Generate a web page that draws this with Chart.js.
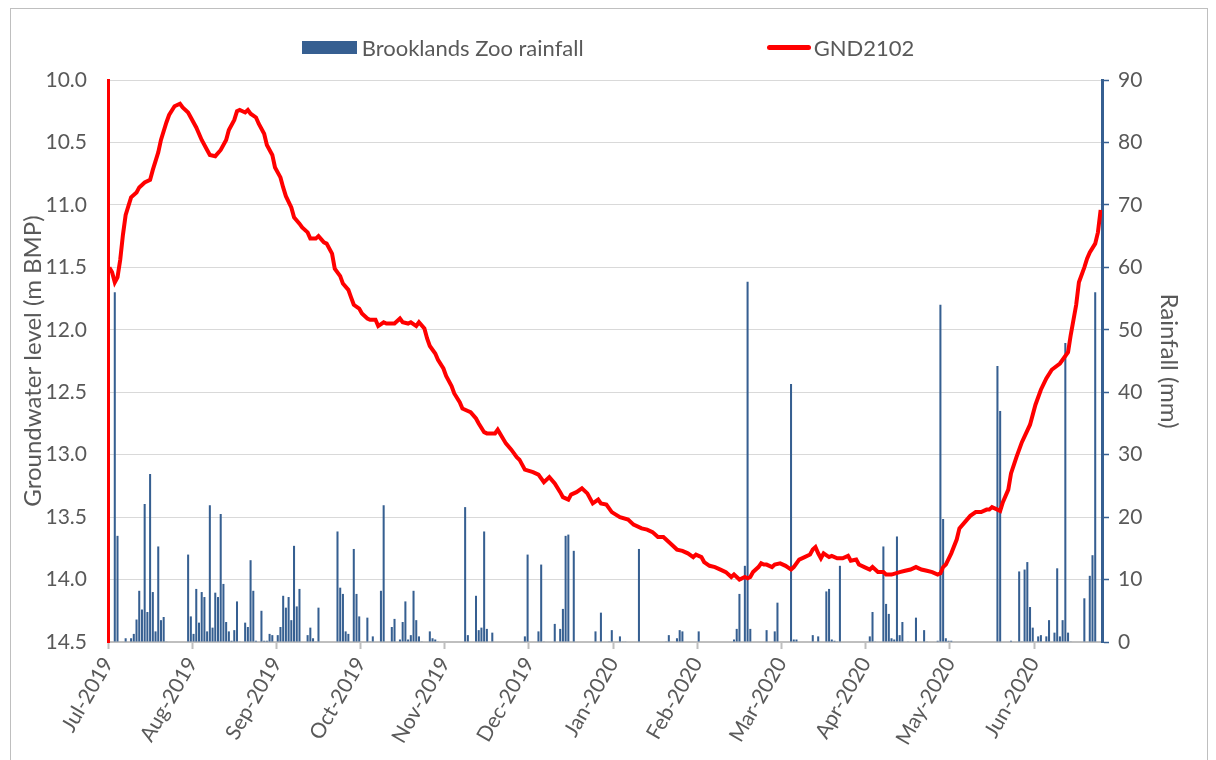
<!DOCTYPE html>
<html>
<head>
<meta charset="utf-8">
<script src="https://cdn.jsdelivr.net/npm/chart.js@4.4.1/dist/chart.umd.min.js"></script>
<style>
  html, body { margin: 0; padding: 0; background: #fff; }
  #wrap { position: relative; width: 1216px; height: 760px; overflow: hidden; }
  #frame { position: absolute; left: 10px; top: 8px; width: 1196px; height: 800px; border: 1px solid #BFBFBF; }
  #legend { position: absolute; left: 0; top: 34px; width: 1216px; display: flex; justify-content: center; gap: 183px;
            font-family: Lato, sans-serif; font-size: 22px; color: #595959; }
  .lg-item { display: flex; align-items: center; }
  .lg-box { display: inline-block; margin-right: 5px; }
</style>
</head>
<body>
<div id="wrap">
  <div id="frame"></div>
  <canvas id="gwChart"></canvas>
  <div id="legend"></div>
</div>
<script>
// ── Data (day 0 = 1 Jul 2019, daily categories to 30 Jun 2020) ──────────
const tickDay = [0, 31, 62, 93, 124, 155, 186, 217, 248, 279, 310, 341];
const tickLabel = ['Jul-2019', 'Aug-2019', 'Sep-2019', 'Oct-2019', 'Nov-2019', 'Dec-2019',
                   'Jan-2020', 'Feb-2020', 'Mar-2020', 'Apr-2020', 'May-2020', 'Jun-2020'];

// Brooklands Zoo daily rainfall (mm), only days with rain
const rainDay = [
  2, 3, 6, 8, 9, 10, 11, 12, 13, 14, 15, 16, 17, 18, 19, 20, 21, 29, 30, 31, 32, 33, 34, 35, 36, 37, 38, 39, 40,
  41, 42, 43, 44, 45, 46, 47, 48, 50, 51, 52, 53, 54, 56, 57, 58, 59, 60,
  62, 63, 64, 65, 66, 67, 68, 69, 70, 73, 74, 75, 76, 77, 84, 85, 86, 87, 88, 90, 91, 92, 95, 96, 97, 100, 101,
  104, 105, 107, 108, 109, 110, 111, 112, 113, 114, 115, 118, 119, 120, 121,
  131, 132, 135, 136, 137, 138, 139, 141, 153, 154, 158, 159, 160, 164, 166, 167, 168, 169, 171, 179, 181, 184, 185,
  188, 189, 190, 195, 205, 206, 209, 210, 211, 217, 230, 231, 232, 234, 235, 236, 242,
  245, 246, 251, 252, 253, 259, 261, 264, 265, 266, 267, 268, 269, 280, 281, 282, 285, 286, 287, 288, 289, 290,
  291, 292, 294, 297, 300, 301, 305, 306, 307, 308, 309, 310,
  327, 328, 332, 335, 336, 337, 338, 339, 340, 342, 343, 345, 346, 348, 349, 350, 351, 352, 353, 354,
  359, 361, 362, 363
];
const rainMm = [
  56, 17.0, 0.6, 0.6, 1.3, 3.6, 8.2, 5.2, 22.1, 4.8, 26.9, 8.0, 1.7, 15.3, 3.5, 4.0, 0.1, 14.0, 4.1, 1.3, 8.5, 3.1, 8.0, 7.2, 1.7, 21.9, 2.3, 7.9, 7.2,
  20.5, 9.3, 3.2, 1.7, 0.2, 1.9, 6.5, 0.1, 3.1, 2.4, 13.1, 8.2, 0.2, 5.0, 0.2, 0.2, 1.3, 1.1,
  1.1, 2.4, 7.4, 5.5, 7.2, 3.5, 15.4, 5.7, 8.5, 1.1, 2.3, 0.6, 0.1, 5.5, 17.7, 8.7, 7.7, 1.7, 1.3, 14.9, 7.7, 4.1, 3.9, 0.1, 0.9, 8.2, 21.9,
  2.4, 3.7, 0.4, 3.2, 6.5, 0.4, 1.1, 8.2, 3.5, 0.9, 0.1, 1.7, 0.6, 0.4, 0.1,
  21.6, 1.1, 7.4, 1.9, 2.3, 17.7, 2.1, 1.5, 0.9, 14.0, 1.7, 12.4, 0.1, 2.9, 2.1, 5.3, 17.0, 17.2, 14.6, 1.7, 4.7, 0.1, 1.9,
  0.9, 0.1, 0.1, 14.9, 0.1, 1.1, 0.6, 1.9, 1.7, 1.7, 0.4, 2.1, 7.7, 12.2, 57.7, 2.1, 1.9,
  1.7, 6.3, 41.3, 0.4, 0.4, 1.1, 0.9, 8.1, 8.5, 0.4, 0.2, 0.1, 12.2, 0.9, 4.8, 0.1, 15.3, 6.1, 4.5, 0.6, 0.4, 16.9,
  1.1, 3.2, 0.1, 3.9, 1.9, 0.1, 0.2, 54, 19.7, 0.6, 0.2, 0.2,
  44.2, 37.0, 0.2, 11.3, 0.1, 11.6, 12.8, 5.6, 2.3, 0.9, 1.1, 0.9, 3.5, 1.5, 11.8, 0.9, 3.5, 47.9, 1.5, 0.1,
  7.0, 10.6, 13.9, 56
];

// GND2102 groundwater level (m below measuring point)
const gwDay = [
  0, 1, 2, 3, 4, 5, 6, 8, 10, 11, 13, 15, 16, 18, 19, 21, 22, 24, 26, 27, 29, 30, 32, 34, 36, 37, 39, 41, 43, 44,
  46, 47, 48, 50, 51, 52, 54, 55, 57, 58, 60, 61, 63, 64, 65, 67, 68, 70, 71, 73, 74, 76, 77, 79, 80, 82, 83, 85,
  86, 88, 89, 90, 92, 93, 95, 96, 98, 99, 101, 102, 104, 105, 107, 108, 110, 111, 113, 114, 116, 117, 118, 120,
  121, 123, 124, 126, 127, 129, 130, 132, 133, 135, 136, 138, 139, 141, 142, 143, 146, 148, 150, 151, 153, 156,
  158, 160, 162, 164, 166, 167, 169, 170, 172, 174, 176, 178, 180, 181, 183, 185, 188, 191, 193, 196, 198, 200,
  202, 204, 205, 207, 209, 211, 213, 215, 216, 218, 219, 221, 223, 225, 227, 229, 230, 231, 232, 234, 235, 236,
  237, 239, 240, 241, 242, 244, 245, 247, 249, 251, 252, 254, 256, 258, 259, 260, 261, 262, 263, 265, 266, 268,
  270, 272, 273, 275, 276, 278, 280, 281, 283, 285, 286, 288, 291, 293, 295, 297, 299, 301, 303, 305, 306, 307,
  308, 310, 312, 313, 315, 317, 319, 321, 323, 324, 325, 327, 328, 329, 331, 332, 334, 336, 339, 341, 343, 345,
  347, 350, 351, 353, 354, 356, 357, 359, 360, 361, 363, 364, 365
];
const gwLevel = [
  11.50, 11.54, 11.62, 11.58, 11.44, 11.24, 11.08, 10.94, 10.90, 10.86, 10.82, 10.80, 10.72, 10.58, 10.48, 10.34,
  10.28, 10.21, 10.19, 10.22, 10.26, 10.30, 10.38, 10.48, 10.56, 10.60, 10.61, 10.56, 10.48, 10.40,
  10.32, 10.25, 10.24, 10.26, 10.24, 10.27, 10.30, 10.35, 10.43, 10.52, 10.60, 10.70, 10.78, 10.86, 10.93, 11.02,
  11.10, 11.15, 11.18, 11.22, 11.27, 11.27, 11.25, 11.30, 11.31, 11.39, 11.51, 11.57,
  11.63, 11.68, 11.74, 11.80, 11.83, 11.87, 11.91, 11.92, 11.92, 11.97, 11.94, 11.95, 11.95, 11.95, 11.91, 11.94,
  11.95, 11.94, 11.97, 11.94, 11.99, 12.07, 12.13, 12.19,
  12.24, 12.31, 12.37, 12.45, 12.51, 12.58, 12.63, 12.65, 12.66, 12.71, 12.75, 12.82, 12.83, 12.83, 12.83, 12.80,
  12.91, 12.96, 13.02, 13.04, 13.12, 13.14,
  13.16, 13.22, 13.18, 13.23, 13.30, 13.34, 13.36, 13.32, 13.30, 13.27, 13.31, 13.39, 13.36, 13.39, 13.40, 13.46,
  13.50, 13.52, 13.56, 13.59, 13.60, 13.62,
  13.66, 13.66, 13.68, 13.72, 13.76, 13.77, 13.79, 13.82, 13.80, 13.82, 13.86, 13.89, 13.90, 13.92, 13.94, 13.98,
  13.96, 13.98, 14.00, 13.98, 13.99, 13.98,
  13.94, 13.90, 13.87, 13.88, 13.88, 13.90, 13.88, 13.87, 13.89, 13.92, 13.90, 13.84, 13.82, 13.80, 13.76, 13.74,
  13.79, 13.83, 13.79, 13.82, 13.81, 13.83,
  13.83, 13.81, 13.85, 13.84, 13.88, 13.90, 13.92, 13.90, 13.94, 13.94, 13.96, 13.96, 13.94, 13.93, 13.92, 13.90,
  13.92, 13.93, 13.94, 13.96, 13.95, 13.90,
  13.88, 13.79, 13.68, 13.59, 13.54, 13.49, 13.46, 13.46, 13.44, 13.44, 13.42, 13.44, 13.45, 13.38, 13.28, 13.15,
  13.02, 12.90, 12.76, 12.60, 12.48, 12.39,
  12.32, 12.27, 12.24, 12.18, 12.04, 11.80, 11.62, 11.50, 11.43, 11.38, 11.31, 11.22, 11.04
];

// ── Styles ───────────────────────────────────────────────────
const RAIN_BLUE = '#365F91';
const GW_RED = '#FF0000';
const TEXT_GREY = '#595959';
const GRID_GREY = '#D9D9D9';
const AXIS_GREY = '#BFBFBF';

Chart.defaults.font.family = 'Lato, sans-serif';
Chart.defaults.color = TEXT_GREY;

// category centre sits half a day right of the day boundary
const rainPoints = rainDay.map((d, i) => ({ x: d + 0.5, y: rainMm[i] }));
const gwPoints = gwDay.map((d, i) => ({ x: d + 0.5, y: gwLevel[i] }));

const chart = new Chart(document.getElementById('gwChart'), {
  type: 'bar',
  data: {
    datasets: [
      {
        type: 'bar',
        label: 'Brooklands Zoo rainfall',
        data: rainPoints,
        yAxisID: 'y1',
        backgroundColor: RAIN_BLUE,
        borderWidth: 0,
        categoryPercentage: 1.0,
        barPercentage: 0.75,
        order: 1
      },
      {
        type: 'line',
        label: 'GND2102',
        data: gwPoints,
        yAxisID: 'y',
        borderColor: GW_RED,
        backgroundColor: GW_RED,
        borderWidth: 4,
        pointRadius: 0,
        tension: 0,
        order: 0
      }
    ]
  },
  options: {
    responsive: true,
    maintainAspectRatio: false,
    animation: false,
    layout: { padding: { top: 80, left: 0, right: 0, bottom: 0 } },
    plugins: { legend: { display: false }, tooltip: { enabled: false } },
    scales: {
      x: {
        type: 'linear',
        min: 0, max: 366,
        offset: false,
        grid: { display: true, offset: false, drawOnChartArea: false, color: AXIS_GREY, tickColor: AXIS_GREY, tickLength: 7, tickWidth: 2 },
        border: { color: AXIS_GREY, width: 2 },
        afterBuildTicks: (s) => { s.ticks = tickDay.map(v => ({ value: v })); },
        afterFit: (s) => { s.height = 118; },
        ticks: {
          autoSkip: false, minRotation: 60, maxRotation: 60, padding: 4,
          font: { size: 21 }, color: TEXT_GREY,
          callback: (v, i) => tickLabel[i]
        }
      },
      y: {
        position: 'left',
        reverse: true,
        min: 10, max: 14.5,
        grid: { color: GRID_GREY, lineWidth: 1, drawTicks: false },
        border: { color: GW_RED, width: 3 },
        afterFit: (s) => { s.width = 108; },
        ticks: { stepSize: 0.5, padding: 21, font: { size: 21 }, color: TEXT_GREY, callback: (v) => v.toFixed(1) },
        title: { display: true, text: 'Groundwater level (m BMP)', font: { size: 24 }, color: TEXT_GREY, padding: { top: 19, bottom: 0 } }
      },
      y1: {
        position: 'right',
        min: 0, max: 90,
        grid: { drawOnChartArea: false, color: RAIN_BLUE, tickColor: RAIN_BLUE, tickLength: 7, tickWidth: 1.5 },
        border: { color: RAIN_BLUE, width: 3 },
        afterFit: (s) => { s.width = 114; },
        ticks: { stepSize: 10, padding: 9, font: { size: 21 }, color: TEXT_GREY },
        title: { display: true, text: 'Rainfall (mm)', font: { size: 24 }, color: TEXT_GREY, padding: { top: 33, bottom: 0 } }
      }
    }
  }
});

// ── HTML legend built from the datasets ──────────────────────
const legendEl = document.getElementById('legend');
chart.data.datasets.forEach(ds => {
  const item = document.createElement('div');
  item.className = 'lg-item';
  const box = document.createElement('span');
  box.className = 'lg-box';
  if (ds.type === 'bar') {
    box.style.cssText = `width:55px;height:13px;background:${ds.backgroundColor};`;
  } else {
    box.style.cssText = `width:44px;height:5px;border-radius:3px;background:${ds.borderColor};margin-right:3px;`;
  }
  const txt = document.createElement('span');
  txt.textContent = ds.label;
  item.appendChild(box);
  item.appendChild(txt);
  legendEl.appendChild(item);
});
</script>
</body>
</html>
